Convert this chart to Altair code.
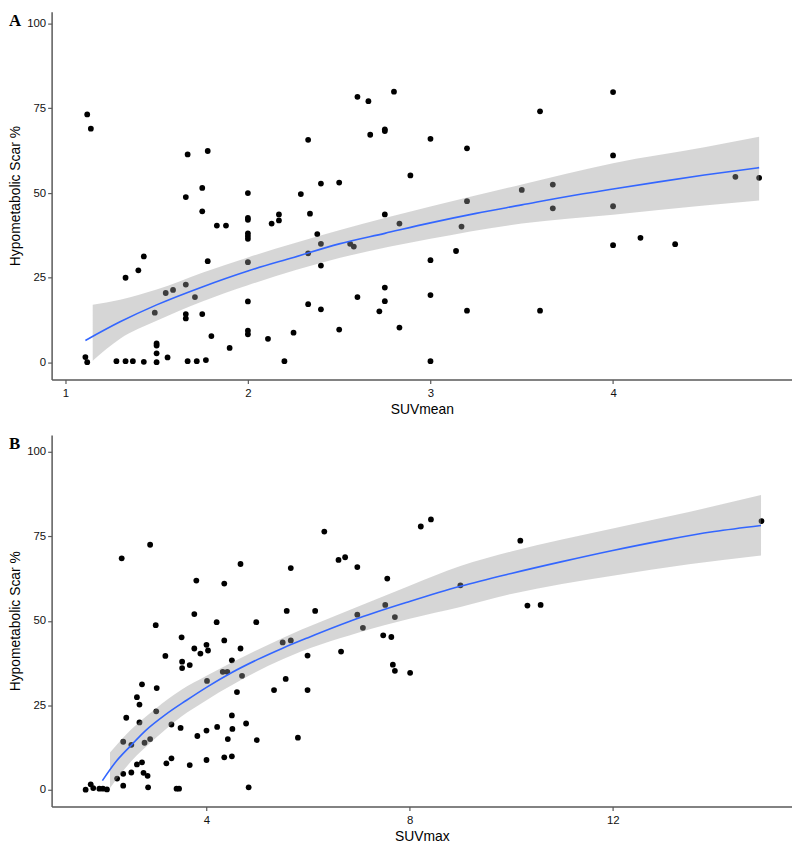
import altair as alt
import pandas as pd

# ---------------- Panel A: SUVmean ----------------
a_x = [1.12, 1.14, 1.11, 1.12, 1.28, 1.33, 1.37, 1.43, 1.50, 1.33,
       1.40, 1.43, 1.49, 1.50, 1.50, 1.50, 1.56, 1.55, 1.59, 1.66,
       1.71, 1.67, 1.66, 1.75, 1.75, 1.78, 1.78, 1.66, 1.66, 1.75,
       1.67, 1.72, 1.77, 1.80, 1.83, 1.88, 1.90, 2.00, 2.00, 2.00,
       2.00, 2.00, 2.00, 2.00, 2.00, 2.00, 2.00, 2.11, 2.13, 2.17,
       2.17, 2.20, 2.25, 2.29, 2.33, 2.34, 2.33, 2.33, 2.38, 2.40,
       2.40, 2.40, 2.40, 2.50, 2.50, 2.56, 2.58, 2.60, 2.60, 2.66,
       2.67, 2.72, 2.75, 2.75, 2.75, 2.75, 2.75, 2.80, 2.89, 2.83,
       2.83, 3.00, 3.00, 3.00, 3.00, 3.20, 3.20, 3.17, 3.14, 3.20,
       3.50, 3.60, 3.67, 3.67, 3.60, 4.00, 4.00, 4.00, 4.00, 4.15,
       4.34, 4.67, 4.80]
a_y = [73.2, 69.0, 1.6, 0.1, 0.4, 0.4, 0.4, 0.2, 0.1, 25.0,
       27.2, 31.3, 14.7, 5.6, 5.0, 2.7, 1.5, 20.5, 21.4, 23.0,
       19.3, 61.4, 48.8, 51.5, 44.6, 62.4, 29.9, 14.3, 13.0, 14.3,
       0.4, 0.4, 0.7, 7.8, 40.4, 40.4, 4.3, 50.0, 42.7, 42.1,
       38.1, 37.3, 36.5, 29.6, 18.0, 9.4, 8.3, 7.0, 41.0, 41.9,
       43.7, 0.4, 8.8, 49.7, 65.7, 43.9, 32.2, 17.2, 37.9, 52.8,
       35.0, 28.6, 15.7, 53.1, 9.7, 35.0, 34.2, 78.4, 19.3, 77.1,
       67.2, 15.1, 68.3, 68.8, 43.7, 22.1, 18.1, 79.9, 55.2, 41.0,
       10.3, 66.0, 30.2, 19.9, 0.4, 63.2, 47.6, 40.1, 32.9, 15.3,
       50.9, 74.1, 52.5, 45.5, 15.3, 79.8, 61.1, 46.1, 34.6, 36.8,
       34.9, 54.8, 54.5]

a_fit_x = [1.11, 1.3, 1.5, 1.75, 2.0, 2.25, 2.5, 2.75, 3.0, 3.25, 3.5, 3.75, 4.0, 4.25, 4.5, 4.8]
a_fit_y = [6.5, 12.0, 17.0, 22.3, 27.0, 31.0, 35.0, 38.1, 41.2, 44.0, 46.5, 49.0, 51.2, 53.3, 55.3, 57.5]

a_band_x = [1.15, 1.3, 1.5, 1.75, 2.0, 2.5, 3.0, 3.5, 4.0, 4.5, 4.8]
a_band_lo = [0.5, 7.0, 12.3, 18.0, 22.8, 30.8, 36.5, 41.0, 43.6, 46.3, 47.8]
a_band_hi = [17.0, 18.5, 21.5, 26.5, 31.0, 39.0, 46.0, 52.5, 58.8, 63.5, 66.6]

# ---------------- Panel B: SUVmax ----------------
b_x = [1.62, 1.72, 1.77, 1.89, 1.96, 2.04, 2.33, 2.36, 2.42, 2.24,
       2.36, 2.36, 2.52, 2.52, 2.63, 2.68, 2.68, 2.73, 2.63, 2.73,
       2.76, 2.84, 2.85, 2.78, 2.89, 2.89, 3.00, 3.02, 3.01, 3.19,
       3.21, 3.31, 3.31, 3.41, 3.46, 3.51, 3.52, 3.52, 3.49, 3.67,
       3.67, 3.76, 3.76, 3.80, 3.88, 3.82, 4.00, 4.03, 4.01, 4.00,
       4.00, 4.20, 4.21, 4.35, 4.35, 4.32, 4.41, 4.50, 4.42, 4.35,
       4.50, 4.51, 4.50, 4.60, 4.67, 4.67, 4.70, 4.78, 4.83, 4.98,
       4.99, 5.33, 5.50, 5.58, 5.56, 5.66, 5.66, 5.80, 5.99, 5.99,
       6.14, 6.32, 6.60, 6.73, 6.65, 6.97, 6.97, 7.08, 7.52, 7.56,
       7.71, 7.48, 7.64, 7.67, 7.71, 8.01, 8.22, 8.42, 9.00, 10.18,
       10.32, 10.58, 14.93]
b_y = [0.0, 1.6, 0.5, 0.3, 0.3, 0.1, 68.5, 14.2, 21.3, 3.3,
       4.7, 1.2, 5.1, 13.3, 27.4, 25.2, 19.9, 31.2, 7.5, 8.1,
       5.0, 4.1, 0.7, 13.9, 15.0, 72.5, 48.7, 30.1, 23.2, 39.6,
       7.8, 9.3, 19.3, 0.3, 0.3, 45.1, 37.9, 36.0, 18.3, 36.9,
       7.3, 52.0, 41.8, 61.9, 40.3, 15.9, 42.9, 41.2, 32.2, 17.5,
       8.8, 49.6, 18.6, 61.0, 44.2, 34.9, 34.9, 38.3, 15.0, 9.6,
       22.0, 18.0, 9.9, 28.9, 66.8, 41.8, 33.7, 19.6, 0.7, 49.6,
       14.7, 29.5, 43.6, 52.9, 32.8, 65.6, 44.2, 15.4, 39.7, 29.5,
       52.9, 76.4, 68.0, 68.8, 40.9, 65.9, 51.8, 47.9, 54.7, 62.5,
       51.1, 45.7, 45.2, 37.0, 35.2, 34.6, 77.9, 80.0, 60.5, 73.7,
       54.5, 54.7, 79.5]

b_fit_x = [1.95, 2.2, 2.5, 2.8, 3.2, 3.6, 4.0, 4.5, 5.0, 5.5, 6.0, 7.0, 8.0, 9.0, 10.0, 11.0, 12.0, 13.0, 14.0, 14.92]
b_fit_y = [2.7, 8.0, 12.9, 17.5, 22.3, 26.4, 30.3, 34.7, 38.5, 41.9, 45.0, 50.8, 55.7, 60.2, 64.0, 67.5, 70.8, 73.8, 76.4, 78.2]

b_band_x = [2.1, 2.5, 3.0, 3.5, 4.0, 5.5, 7.0, 8.0, 9.0, 10.0, 12.0, 13.5, 14.92]
b_band_lo = [0.5, 8.1, 15.3, 21.6, 26.5, 38.6, 46.5, 50.6, 54.1, 57.9, 63.3, 66.7, 69.3]
b_band_hi = [11.0, 17.6, 24.0, 29.5, 33.7, 44.9, 54.3, 60.4, 66.2, 70.5, 77.3, 82.2, 87.2]

y_ticks = [0, 25, 50, 75, 100]
y_title = "Hypometabolic Scar %"


def panel(px, py, fx, fy, bx, blo, bhi, xtitle, xticks, xdom, ydom, w, h, letter):
    pts = pd.DataFrame({"x": px, "y": py})
    fit = pd.DataFrame({"x": fx, "y": fy})
    band = pd.DataFrame({"x": bx, "lo": blo, "hi": bhi})
    xs = alt.Scale(domain=xdom, nice=False, zero=False)
    ys = alt.Scale(domain=ydom, nice=False, zero=False)
    xax = alt.Axis(values=xticks, title=xtitle, format="d")
    yax = alt.Axis(values=y_ticks, title=y_title, format="d")
    X = alt.X("x:Q", scale=xs, axis=xax)
    p = alt.Chart(pts).mark_circle(size=34, color="black", opacity=1).encode(
        x=X, y=alt.Y("y:Q", scale=ys, axis=yax))
    b = alt.Chart(band).mark_area(color="#999999", opacity=0.4, interpolate="monotone").encode(
        x=X, y=alt.Y("lo:Q", scale=ys, axis=yax), y2="hi:Q")
    l = alt.Chart(fit).mark_line(color="#3366FF", strokeWidth=1.6, interpolate="monotone").encode(
        x=X, y=alt.Y("y:Q", scale=ys, axis=yax))
    t = alt.Chart(pd.DataFrame({"t": [letter]})).mark_text(
        font="Liberation Serif", fontWeight="bold", fontSize=17,
        align="left", baseline="alphabetic", color="black").encode(
        x=alt.value(-43), y=alt.value(14), text="t:N")
    return alt.layer(p, b, l, t).properties(width=w, height=h)


pA = panel(a_x, a_y, a_fit_x, a_fit_y, a_band_x, a_band_lo, a_band_hi,
           "SUVmean", [1, 2, 3, 4], [0.925, 4.98], [-5, 103.5], 747, 371, "A")
pB = panel(b_x, b_y, b_fit_x, b_fit_y, b_band_x, b_band_lo, b_band_hi,
           "SUVmax", [4, 8, 12], [0.95, 15.53], [-5, 105], 747, 375, "B")

FONT = "Liberation Sans"
chart = alt.vconcat(pA, pB, spacing=18).properties(
    padding={"left": 0, "top": 0, "right": 0, "bottom": 0}
).configure_view(stroke=None).configure_axis(
    grid=False, domainColor="#595959", domainWidth=1.5,
    tickColor="#595959", tickSize=4, tickWidth=1.2,
    labelFont=FONT, labelFontSize=11.5, labelColor="#111111", labelPadding=2,
    titleFont=FONT, titleFontSize=14, titleFontWeight="normal", titleColor="black",
).configure_axisX(titlePadding=4, labelPadding=4).configure_axisY(titlePadding=4)

chart.save("out.html", embed_options={"renderer": "svg", "actions": False})
